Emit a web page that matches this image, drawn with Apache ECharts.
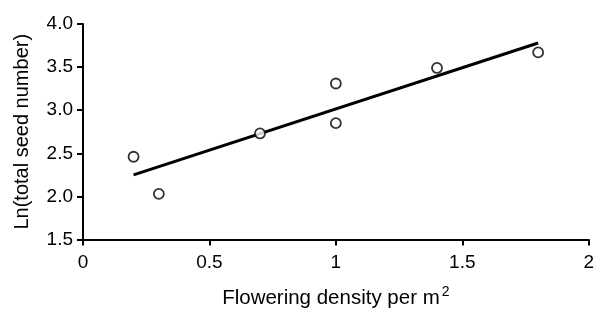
<!DOCTYPE html>
<html>
<head>
<meta charset="utf-8">
<script src="https://cdn.jsdelivr.net/npm/echarts@6/dist/echarts.min.js"></script>
<style>
  html, body { margin: 0; padding: 0; background: #fff; }
  #chart { width: 597px; height: 314px; }
</style>
</head>
<body>
<div id="chart"></div>
<script>
// observed points
var densityX = [0.2, 0.3, 0.7, 1.0, 1.0, 1.4, 1.8];
var lnSeed = [2.46, 2.03, 2.73, 3.31, 2.85, 3.49, 3.67];
// fitted line end points
var fitX = [0.2, 1.8];
var fitY = [2.25, 3.78];

var font = 'Liberation Sans, Arial, sans-serif';

var chart = echarts.init(document.getElementById('chart'));
chart.setOption({
    animation: false,
    grid: { left: 83, right: 7, top: 24, bottom: 73 },
    xAxis: {
        type: 'value',
        min: 0, max: 2, interval: 0.5,
        name: 'Flowering density per m{sup|2}',
        nameLocation: 'middle',
        nameGap: 46,
        nameTextStyle: {
            fontFamily: font, fontSize: 20.5, color: '#000',
            rich: { sup: { fontSize: 14, padding: [0, 0, 12, 2], fontFamily: font, color: '#000' } }
        },
        axisLine: { lineStyle: { color: '#000', width: 2 } },
        axisTick: { inside: false, length: 6, lineStyle: { color: '#000', width: 2 } },
        axisLabel: {
            fontFamily: font, fontSize: 19, color: '#000', margin: 14,
            formatter: function (v) { return String(v); }
        },
        splitLine: { show: false }
    },
    yAxis: {
        type: 'value',
        min: 1.5, max: 4.0, interval: 0.5,
        name: 'Ln(total seed number)',
        nameLocation: 'middle',
        nameGap: 51,
        nameTextStyle: { fontFamily: font, fontSize: 20, color: '#000' },
        axisLine: { show: true, lineStyle: { color: '#000', width: 2 } },
        axisTick: { show: true, length: 6, lineStyle: { color: '#000', width: 2 } },
        axisLabel: {
            fontFamily: font, fontSize: 19, color: '#000', margin: 10,
            formatter: function (v) { return v.toFixed(1); }
        },
        splitLine: { show: false }
    },
    series: [{
        type: 'line',
        data: fitX.map(function (x, i) { return [x, fitY[i]]; }),
        showSymbol: false,
        lineStyle: { color: '#000', width: 3 },
        z: 2
    }, {
        type: 'scatter',
        data: densityX.map(function (x, i) { return [x, lnSeed[i]]; }),
        symbol: 'circle',
        symbolSize: 10,
        itemStyle: { color: '#fff', borderColor: '#000', borderWidth: 1.8 },
        z: 3
    }]
});
</script>
</body>
</html>
